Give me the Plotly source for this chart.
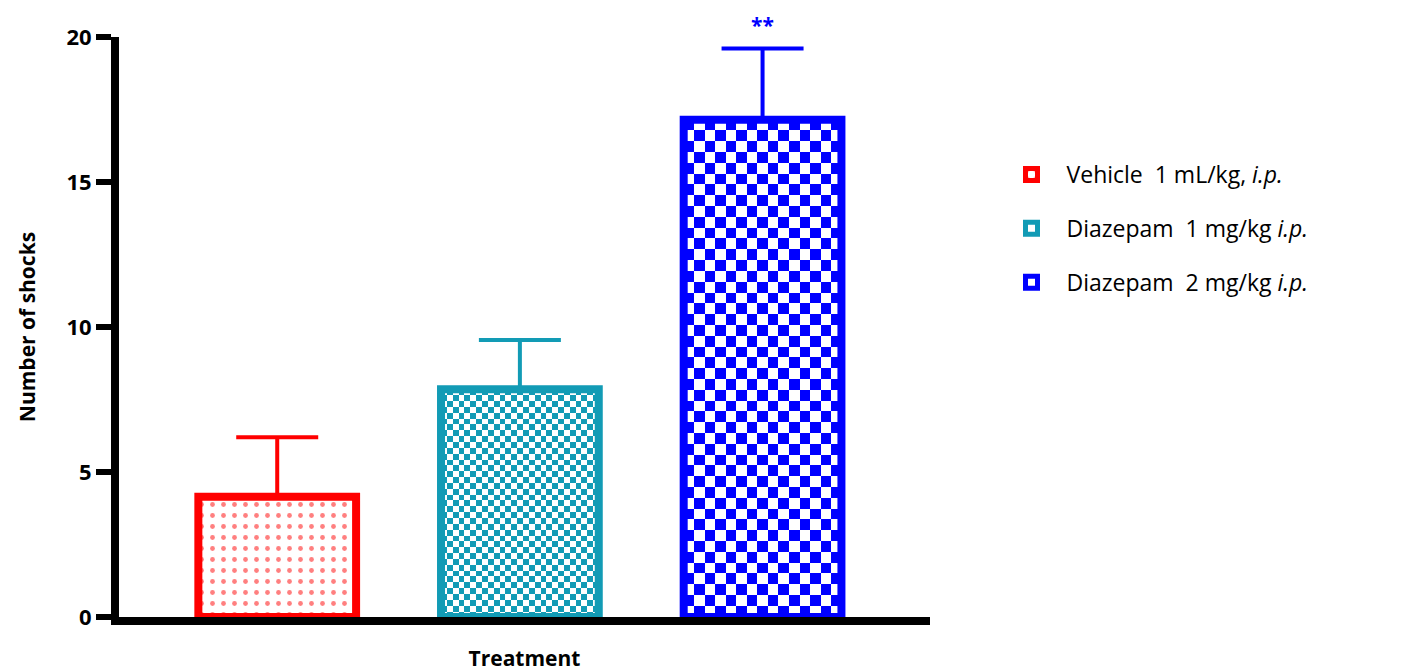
import numpy as np
import plotly.graph_objects as go

# ---- data ----
groups = ["Vehicle  1 mL/kg, <i>i.p.</i>",
          "Diazepam  1 mg/kg <i>i.p.</i>",
          "Diazepam  2 mg/kg <i>i.p.</i>"]
means = [4.15, 7.85, 17.15]
sem = [2.05, 1.7, 2.45]
y_ticks = [0, 5, 10, 15, 20]
significance = ["", "", "**"]

# ---- style ----
colors = ["#ff0000", "#129bb5", "#0000ff"]
bar_width = 0.65
x_pos = [0, 1, 2]
x_range = [-0.652, 2.69]
y_range = [0, 20]
plot_w_px = 811
plot_h_px = 580
px_per_x = plot_w_px / (x_range[1] - x_range[0])
px_per_y = plot_h_px / (y_range[1] - y_range[0])
checker_px = [None, 5.8, 10.8]  # checkerboard cell size in px

fig = go.Figure()

# checkerboard fills (heatmaps beneath the bars)
for i in range(3):
    if checker_px[i] is None:
        continue
    x0 = x_pos[i] - bar_width / 2
    x1 = x_pos[i] + bar_width / 2
    ncols = int(round((x1 - x0) * px_per_x / checker_px[i]))
    nrows = int(round(means[i] * px_per_y / checker_px[i]))
    xe = np.linspace(x0, x1, ncols + 1)
    ye = np.linspace(0, means[i], nrows + 1)
    z = (np.add.outer(np.arange(nrows), np.arange(ncols)) % 2).astype(float)
    fig.add_trace(go.Heatmap(
        x=xe, y=ye, z=z, zmin=0, zmax=1,
        colorscale=[[0, "white"], [1, colors[i]]],
        showscale=False, hoverinfo="skip", showlegend=False, xgap=0, ygap=0))

for i in range(3):
    if checker_px[i] is None:
        marker = dict(color="white",
                      pattern=dict(shape=".", fgcolor=colors[i], bgcolor="white",
                                   size=11, solidity=0.15),
                      line=dict(color=colors[i], width=8))
    else:
        marker = dict(color="rgba(255,255,255,0)",
                      pattern=dict(shape="+", fgcolor=colors[i], bgcolor="rgba(255,255,255,0)",
                                   size=6, solidity=0.0001),
                      line=dict(color=colors[i], width=8))
    fig.add_trace(go.Bar(
        x=[x_pos[i]], y=[means[i]], width=bar_width, name=groups[i],
        legendgroup=f"g{i}",
        marker=marker,
        error_y=dict(type="data", symmetric=False, array=[sem[i]], arrayminus=[0],
                     color=colors[i], thickness=4, width=41),
    ))
    if significance[i]:
        fig.add_annotation(x=x_pos[i], y=means[i] + sem[i], yshift=8, text=significance[i],
                           showarrow=False, yanchor="bottom",
                           font=dict(family="Open Sans", size=21, color=colors[i], weight="bold"))

fig.update_layout(
    width=1414, height=670,
    margin=dict(l=111, r=492, t=29, b=61),
    plot_bgcolor="white", paper_bgcolor="white",
    barmode="overlay",
    showlegend=True,
    legend=dict(x=1.082, y=0.80, xanchor="left", yanchor="top",
                traceorder="grouped", tracegroupgap=21,
                font=dict(family="Open Sans", size=23, color="black"),
                itemwidth=60),
    xaxis=dict(range=x_range, showline=True, linewidth=8, linecolor="black",
               showticklabels=False, ticks="", showgrid=False, zeroline=False,
               title=dict(text="<b>Treatment</b>", standoff=30,
                          font=dict(family="Open Sans", size=21, color="black"))),
    yaxis=dict(range=y_range, tickvals=y_ticks, showline=True, linewidth=8,
               linecolor="black", ticks="outside", ticklen=15, tickwidth=6,
               tickcolor="black", showgrid=False, zeroline=False,
               tickfont=dict(family="Open Sans", size=22, color="black", weight="bold"),
               title=dict(text="<b>Number of shocks</b>", standoff=28,
                          font=dict(family="Open Sans", size=21, color="black"))),
)

fig.write_html("out.html")
